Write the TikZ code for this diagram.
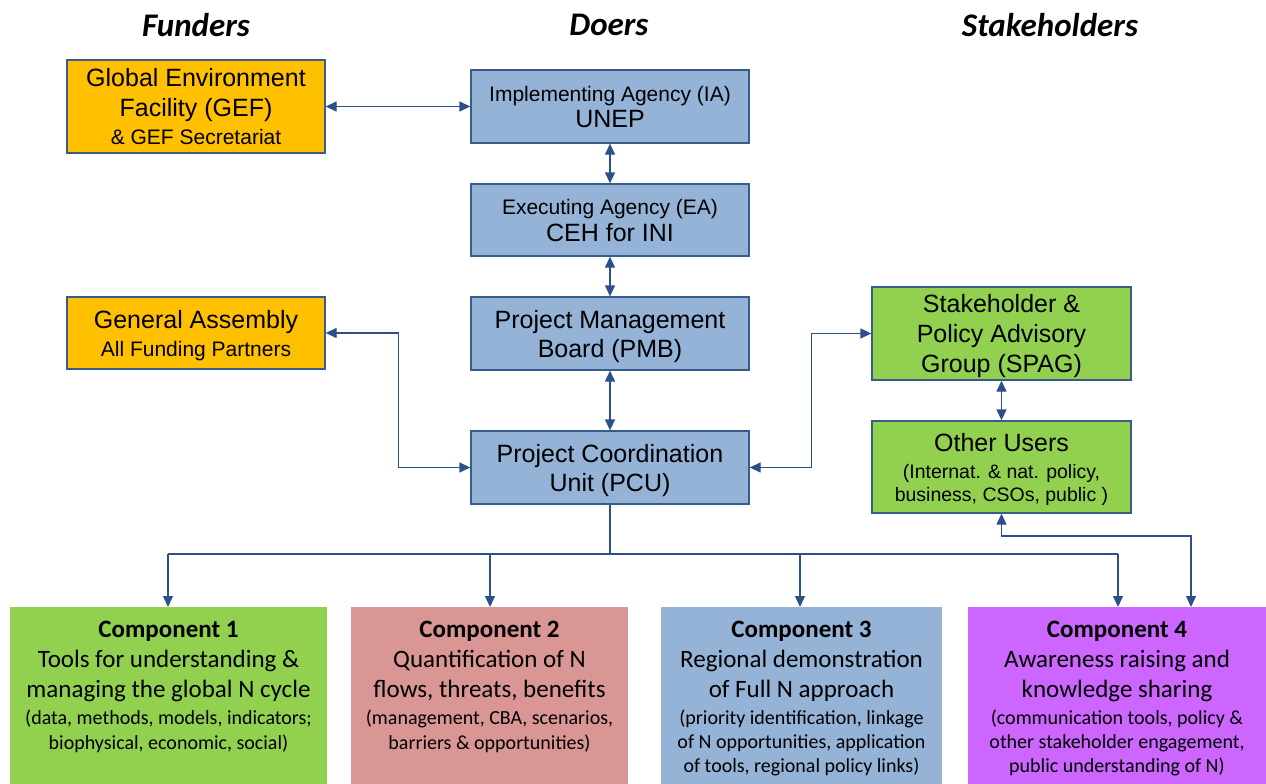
\documentclass[tikz,border=0pt]{standalone}
\usepackage{fontspec}
\setmainfont{Liberation Sans}
\newfontfamily\calfont{Carlito}
\usetikzlibrary{arrows.meta,positioning}
\definecolor{orng}{HTML}{FFC000}
\definecolor{bluebox}{HTML}{95B3D7}
\definecolor{grn}{HTML}{92D050}
\definecolor{pink}{HTML}{DA9694}
\definecolor{purp}{HTML}{CC66FF}
\definecolor{bord}{RGB}{56,93,138}
\definecolor{arr}{RGB}{44,80,140}
\tikzset{
  box/.style={draw=bord,line width=1.3pt,inner sep=0pt,align=center,text=black,text depth=0pt},
  comp/.style={inner sep=0pt,draw=none},
  comptext/.style={inner sep=0pt,align=center,anchor=north,
     font=\calfont\fontsize{25}{30}\selectfont},
  big/.style={font=\fontsize{25}{30}\selectfont},
  conn/.style={draw=arr,line width=1.3pt,{Triangle[length=11pt,width=10pt]}-{Triangle[length=11pt,width=10pt]}},
  oneway/.style={draw=arr,line width=1.3pt,-{Triangle[length=11pt,width=10pt]}},
  plain/.style={draw=arr,line width=1.3pt},
  hdr/.style={font=\calfont\bfseries\itshape\fontsize{33}{38}\selectfont,inner sep=0pt}
}
\newcommand{\sm}{\fontsize{21}{24}\selectfont}
\newcommand{\smc}{\fontsize{20}{22}\selectfont}
\newcommand{\ttl}{\bfseries\fontsize{25}{28}\selectfont}
\begin{document}
\begin{tikzpicture}[x=1pt,y=-1pt]
\useasboundingbox (0,0) rectangle (1266,784);
% headers
\node[hdr] (hf) at (196,25) {Funders};
\node[hdr] (hd) at (609,25) {Doers};
\node[hdr] (hs) at (1050,25) {Stakeholders};
% boxes
\node[box,fill=orng,minimum width=258pt,minimum height=93pt,big] (gef) at (196,106.5)
  {Global Environment\\Facility (GEF)\\[-2pt]{\sm \& GEF Secretariat}};
\node[box,fill=bluebox,minimum width=278pt,minimum height=73pt,font=\fontsize{25}{26}\selectfont] (ia) at (610,106.5)
  {{\sm Implementing Agency (IA)}\\UNEP};
\node[box,fill=bluebox,minimum width=278pt,minimum height=72pt,font=\fontsize{25}{27}\selectfont] (ea) at (610,220)
  {{\sm Executing Agency (EA)}\\CEH for INI};
\node[box,fill=bluebox,minimum width=278pt,minimum height=73pt,font=\fontsize{25}{29}\selectfont] (pmb) at (610,333.5)
  {Project Management\\Board (PMB)};
\node[box,fill=bluebox,minimum width=278pt,minimum height=73pt,font=\fontsize{25}{29}\selectfont] (pcu) at (610,467.5)
  {Project Coordination\\Unit (PCU)};
\node[box,fill=orng,minimum width=258pt,minimum height=72pt,font=\fontsize{25}{28}\selectfont] (ga) at (196,333)
  {General Assembly\\{\sm All Funding Partners}};
\node[box,fill=grn,minimum width=259pt,minimum height=93pt,big] (spag) at (1001.5,333.5)
  {Stakeholder \&\\Policy Advisory\\Group (SPAG)};
\node[box,fill=grn,minimum width=259pt,minimum height=92pt,font=\fontsize{25}{27}\selectfont] (ou) at (1001.5,467)
  {Other Users\\{\fontsize{19.5}{22}\selectfont (Internat. \& nat. policy,}\\[-4pt]{\fontsize{19.5}{22}\selectfont business, CSOs, public )}};
% components
\node[comp,fill=grn,minimum width=317pt,minimum height=190pt,anchor=north] (c1) at (168.5,607) {};
\node[comp,fill=pink,minimum width=277pt,minimum height=190pt,anchor=north] (c2) at (489.5,607) {};
\node[comp,fill=bluebox,minimum width=281pt,minimum height=190pt,anchor=north] (c3) at (801.5,607) {};
\node[comp,fill=purp,minimum width=302pt,minimum height=190pt,anchor=north] (c4) at (1119,607) {};
\node[comptext] (t1) at (168.5,621)
  {{\ttl Component 1}\\Tools for understanding \&\\managing the global N cycle\\[-3pt]
   {\smc (data, methods, models, indicators;}\\[-5pt]{\smc biophysical, economic, social)}};
\node[comptext] (t2) at (489.5,621)
  {{\ttl Component 2}\\Quantification of N\\flows, threats, benefits\\[-3pt]
   {\smc (management, CBA, scenarios,}\\[-5pt]{\smc barriers \& opportunities)}};
\node[comptext] (t3) at (801.5,621)
  {{\ttl Component 3}\\Regional demonstration\\of Full N approach\\[-3pt]
   {\smc (priority identification, linkage}\\[-6pt]{\smc of N opportunities, application}\\[-6pt]{\smc of tools, regional policy links)}};
\node[comptext] (t4) at (1117,621)
  {{\ttl Component 4}\\Awareness raising and\\knowledge sharing\\[-3pt]
   {\smc (communication tools, policy \&}\\[-6pt]{\smc other stakeholder engagement,}\\[-6pt]{\smc public understanding of N)}};
% connectors
\draw[conn] (gef.east) -- (ia.west);
\draw[conn] (ia.south) -- (ea.north);
\draw[conn] (ea.south) -- (pmb.north);
\draw[conn] (pmb.south) -- (pcu.north);
\draw[conn] (ga.east) -- ++(73,0) |- (pcu.west);
\draw[conn] (pcu.east) -- ++(62,0) |- (spag.west);
\draw[conn] (spag.south) -- (ou.north);
\coordinate (hub) at (610,554);
\coordinate (b1) at (168,554);
\coordinate (b2) at (490,554);
\coordinate (b3) at (800,554);
\coordinate (b4) at (1118,554);
\coordinate (b5) at (1191,536);
\draw[plain] (pcu.south) -- (hub);
\draw[plain] (b1) -- (b4);
\draw[oneway] (b1) -- (b1 |- c1.north);
\draw[oneway] (b2) -- (b2 |- c2.north);
\draw[oneway] (b3) -- (b3 |- c3.north);
\draw[oneway] (b4) -- (b4 |- c4.north);
\draw[conn] (ou.south) |- (b5) -- (b5 |- c4.north);
\end{tikzpicture}
\end{document}
